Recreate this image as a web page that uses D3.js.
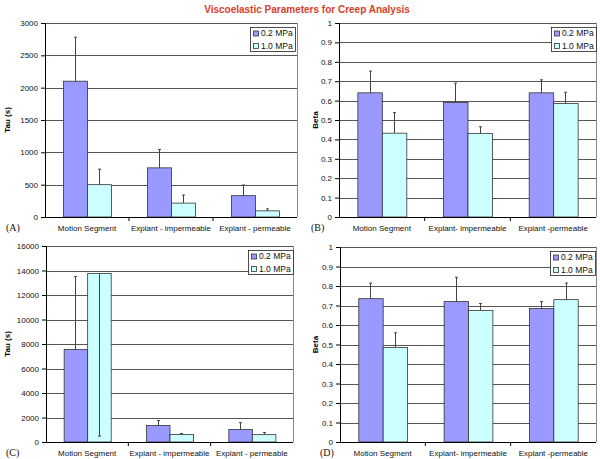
<!DOCTYPE html>
<html><head><meta charset="utf-8">
<script src="https://cdn.jsdelivr.net/npm/d3@7"></script>
<style>body{margin:0;background:#fff}svg{display:block}</style>
</head><body><svg id="c" width="600" height="459"></svg>
<script>
const title = "Viscoelastic Parameters for Creep Analysis";
const seriesNames = ["0.2 MPa", "1.0 MPa"];
const catsAB = ["Motion Segment", "Explant - impermeable", "Explant - permeable"];
const catsBD = ["Motion Segment", "Explant- impermeable", "Explant -permeable"];

// Panel A: Tau (s)
const a02 = [2100, 760, 330];
const a10 = [500, 215, 95];
const aErr02 = [2780, 1045, 495];   // error bar end values
const aErr10 = [740, 340, 125];
const aTicks = [0, 500, 1000, 1500, 2000, 2500, 3000];

// Panel B: Beta
const b02 = [0.64, 0.59, 0.64];
const b10 = [0.432, 0.43, 0.585];
const bErr02 = [0.752, 0.69, 0.707];
const bErr10 = [0.538, 0.465, 0.643];
const betaTicks = [0, 0.1, 0.2, 0.3, 0.4, 0.5, 0.6, 0.7, 0.8, 0.9, 1];

// Panel C: Tau (s)
const c02 = [7550, 1350, 1020];
const c10 = [13750, 620, 600];
const cErr02 = [13500, 1750, 1580];
const cErr10 = [480, 700, 780];
const cTicks = [0, 2000, 4000, 6000, 8000, 10000, 12000, 14000, 16000];

// Panel D: Beta
const d02 = [0.735, 0.72, 0.685];
const d10 = [0.485, 0.675, 0.73];
const dErr02 = [0.815, 0.845, 0.72];
const dErr10 = [0.56, 0.71, 0.815];

const colors = ["#9999ff", "#ccffff"];
const svg = d3.select("#c");

svg.append("text").attr("x", 307).attr("y", 13).attr("text-anchor", "middle")
  .attr("font-family", "Liberation Sans, Arial, sans-serif").attr("font-weight", "bold")
  .attr("font-size", 10).attr("fill", "#d8402a").text(title);

function panel(o) {
  const g = svg.append("g");
  const x = d3.scaleBand().domain(o.cats).range([o.x0, o.x1]).paddingInner(0).paddingOuter(0);
  const y = d3.scaleLinear().domain([0, o.ymax]).range([o.y1, o.y0]);
  const bw = x.bandwidth() / 3.5;
  const sub = d3.scaleBand().domain([0, 1]).range([0, 2 * bw]);
  // gridlines
  g.append("g").selectAll("line").data(o.ticks.slice(1)).join("line")
    .attr("x1", o.x0).attr("x2", o.x1).attr("y1", d => Math.round(y(d)) + 0.5).attr("y2", d => Math.round(y(d)) + 0.5)
    .attr("stroke", "#555").attr("stroke-width", 1);
  // right border
  g.append("line").attr("x1", o.x1 + 0.5).attr("x2", o.x1 + 0.5).attr("y1", y(o.ymax)).attr("y2", o.y1)
    .attr("stroke", "#888").attr("stroke-width", 1);
  // bars
  const series = [o.s02, o.s10], errs = [o.e02, o.e10];
  series.forEach((vals, si) => {
    g.append("g").selectAll("rect").data(vals).join("rect")
      .attr("x", (d, i) => x(o.cats[i]) + 0.75 * bw + sub(si) + 0.5)
      .attr("y", d => y(d)).attr("width", bw).attr("height", d => y(0) - y(d))
      .attr("fill", colors[si]).attr("stroke", "#333").attr("stroke-width", 0.8);
  });
  series.forEach((vals, si) => {
    const eg = g.append("g").attr("stroke", "#444").attr("stroke-width", 1);
    vals.forEach((v, i) => {
      const cx = Math.round(x(o.cats[i]) + 0.75 * bw + sub(si) + bw / 2) + 0.5;
      eg.append("line").attr("x1", cx).attr("x2", cx).attr("y1", y(v)).attr("y2", y(errs[si][i]));
      eg.append("line").attr("x1", cx - 1.5).attr("x2", cx + 1.5).attr("y1", y(errs[si][i])).attr("y2", y(errs[si][i]));
    });
  });
  // y axis
  const ya = d3.axisLeft(y).tickValues(o.ticks).tickSize(4).tickPadding(3)
    .tickFormat(d => String(d));
  const yg = g.append("g").attr("transform", `translate(${o.x0},0)`).call(ya);
  yg.select(".domain").attr("stroke", "#000");
  yg.selectAll("line").attr("stroke", "#000");
  yg.selectAll("text").attr("font-family", "Liberation Sans, Arial, sans-serif").attr("font-size", 8).attr("fill", "#111");
  // x axis
  const xg = g.append("g");
  xg.append("line").attr("x1", o.x0).attr("x2", o.x1).attr("y1", o.y1 + 0.5).attr("y2", o.y1 + 0.5).attr("stroke", "#000");
  xg.selectAll("line.t").data([1, 2]).join("line").attr("class", "t")
    .attr("x1", i => x(o.cats[i])).attr("x2", i => x(o.cats[i]))
    .attr("y1", o.y1).attr("y2", o.y1 + 4).attr("stroke", "#000");
  xg.selectAll("text").data(o.cats).join("text")
    .attr("x", d => x(d) + x.bandwidth() / 2).attr("y", o.y1 + 14).attr("text-anchor", "middle")
    .attr("font-family", "Liberation Sans, Arial, sans-serif").attr("font-size", 8).attr("fill", "#111").text(d => d);
  // y title
  g.append("text").attr("transform", `translate(${o.tx},${(o.y0 + o.y1) / 2}) rotate(-90)`)
    .attr("text-anchor", "middle").attr("dy", "0.35em")
    .attr("font-family", "Liberation Sans, Arial, sans-serif").attr("font-weight", "bold").attr("font-size", 8)
    .text(o.ytitle);
  // panel letter
  g.append("text").attr("x", o.lx).attr("y", o.y1 + 14)
    .attr("font-family", "Liberation Serif, Times New Roman, serif").attr("font-size", 10).attr("fill", "#111").text(o.letter);
  // legend
  const lg = g.append("g");
  lg.append("rect").attr("x", o.lgx + 0.5).attr("y", o.lgy + 0.5).attr("width", 45).attr("height", 24)
    .attr("fill", "#fff").attr("stroke", "#222").attr("stroke-width", 0.8);
  seriesNames.forEach((n, i) => {
    lg.append("rect").attr("x", o.lgx + 3.5).attr("y", o.lgy + 4 + i * 12.5).attr("width", 5).attr("height", 5)
      .attr("fill", colors[i]).attr("stroke", "#333").attr("stroke-width", 0.8);
    lg.append("text").attr("x", o.lgx + 11).attr("y", o.lgy + 6.5 + i * 12.5).attr("dy", "0.35em")
      .attr("font-family", "Liberation Sans, Arial, sans-serif").attr("font-size", 8.5).attr("fill", "#111").text(n);
  });
}

panel({cats: catsAB, s02: a02, s10: a10, e02: aErr02, e10: aErr10, ticks: aTicks, ymax: 3000,
  x0: 45, x1: 297, y0: 23, y1: 217, ytitle: "Tau (s)", tx: 7, letter: "(A)", lx: 6, lgx: 250, lgy: 27});
panel({cats: catsBD, s02: b02, s10: b10, e02: bErr02, e10: bErr10, ticks: betaTicks, ymax: 1,
  x0: 339, x1: 596, y0: 23, y1: 217, ytitle: "Beta", tx: 315, letter: "(B)", lx: 311, lgx: 551, lgy: 27});
panel({cats: catsAB, s02: c02, s10: c10, e02: cErr02, e10: cErr10, ticks: cTicks, ymax: 16000,
  x0: 46, x1: 293, y0: 246, y1: 442, ytitle: "Tau (s)", tx: 7, letter: "(C)", lx: 6, lgx: 248, lgy: 250});
panel({cats: catsBD, s02: d02, s10: d10, e02: dErr02, e10: dErr10, ticks: betaTicks, ymax: 1,
  x0: 340, x1: 596, y0: 247, y1: 442, ytitle: "Beta", tx: 315, letter: "(D)", lx: 320, lgx: 550, lgy: 251});
</script></body></html>
